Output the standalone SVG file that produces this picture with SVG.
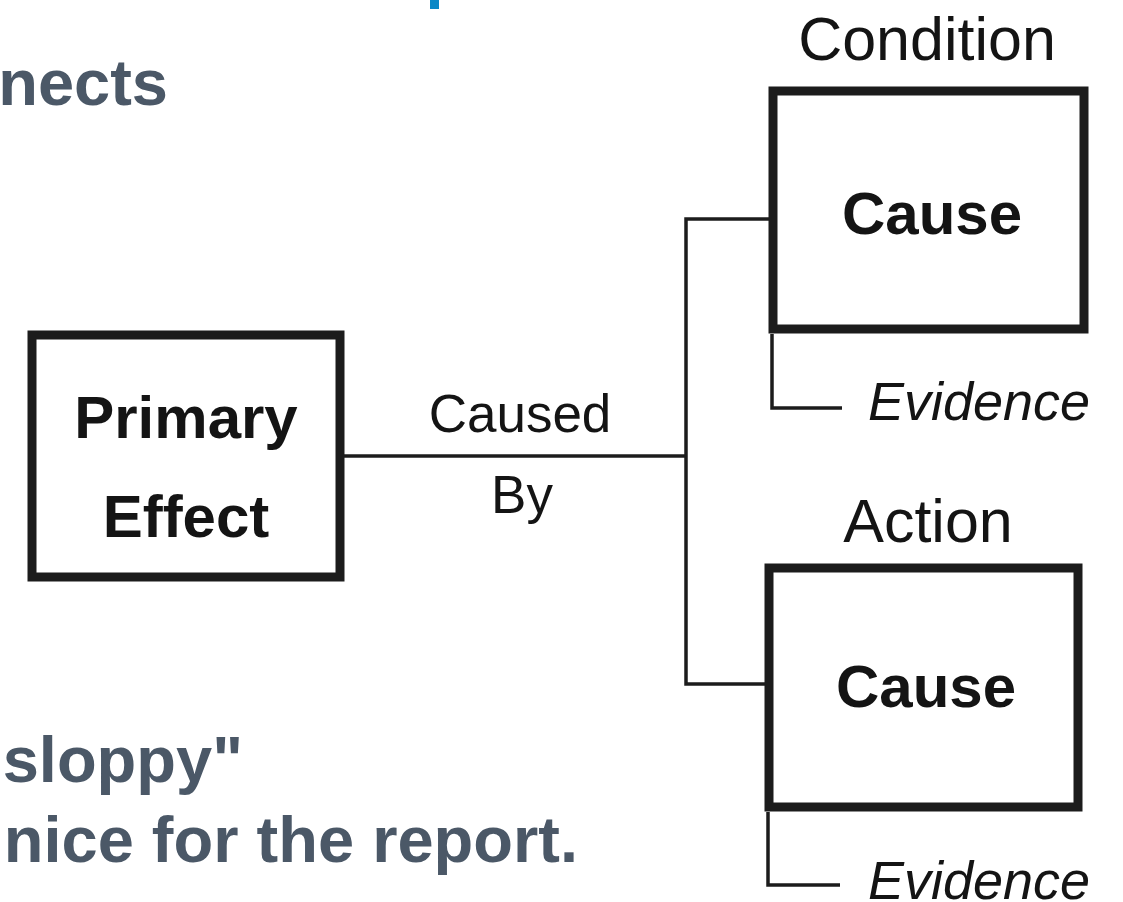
<svg xmlns="http://www.w3.org/2000/svg" width="1123" height="902" viewBox="0 0 1123 902">
  <style>
    .slide { font-family: "Liberation Sans", Arial, sans-serif; font-weight: bold; font-size: 65px; fill: #4b5867; }
    .box { fill: #ffffff; stroke: #1c1c1c; stroke-width: 9; }
    .wire { fill: none; stroke: #1c1c1c; stroke-width: 3.5; }
    .lbl { font-family: "Liberation Sans", Arial, sans-serif; fill: #141414; text-anchor: middle; }
    .big { font-weight: bold; font-size: 60px; }
    .reg { font-size: 61px; }
    .mid { font-size: 53px; }
    .ev { font-size: 54px; font-style: italic; text-anchor: start; }
  </style>
  <rect width="1123" height="902" fill="#ffffff"/>

  <!-- slide text around the figure -->
  <rect x="430" y="0" width="9" height="9" fill="#0a88c6"/>
  <text class="slide" x="168" y="105" text-anchor="end">nects</text>
  <text class="slide" x="243" y="782" text-anchor="end">sloppy"</text>
  <text class="slide" x="578" y="862" text-anchor="end">nice for the report.</text>

  <!-- connectors -->
  <g id="connectors">
    <line class="wire" x1="344" y1="456" x2="686" y2="456"/>
    <polyline class="wire" points="770,219 686,219 686,684 766,684"/>
    <polyline class="wire" points="772,334 772,408 842,408"/>
    <polyline class="wire" points="768,812 768,885 840,885"/>
    <text class="lbl mid" x="520" y="432">Caused</text>
    <text class="lbl mid" x="522" y="513">By</text>
  </g>

  <g id="primary-effect">
    <rect class="box" x="32" y="335" width="308" height="242"/>
    <text class="lbl big" x="186" y="438">Primary</text>
    <text class="lbl big" x="186" y="537">Effect</text>
  </g>

  <g id="condition-cause">
    <text class="lbl reg" x="927" y="60">Condition</text>
    <rect class="box" x="773" y="91" width="311" height="238"/>
    <text class="lbl big" x="932" y="234">Cause</text>
    <text class="lbl ev" x="868" y="420">Evidence</text>
  </g>

  <g id="action-cause">
    <text class="lbl reg" x="928" y="542">Action</text>
    <rect class="box" x="769" y="568" width="309" height="239"/>
    <text class="lbl big" x="926" y="707">Cause</text>
    <text class="lbl ev" x="868" y="899">Evidence</text>
  </g>
</svg>
